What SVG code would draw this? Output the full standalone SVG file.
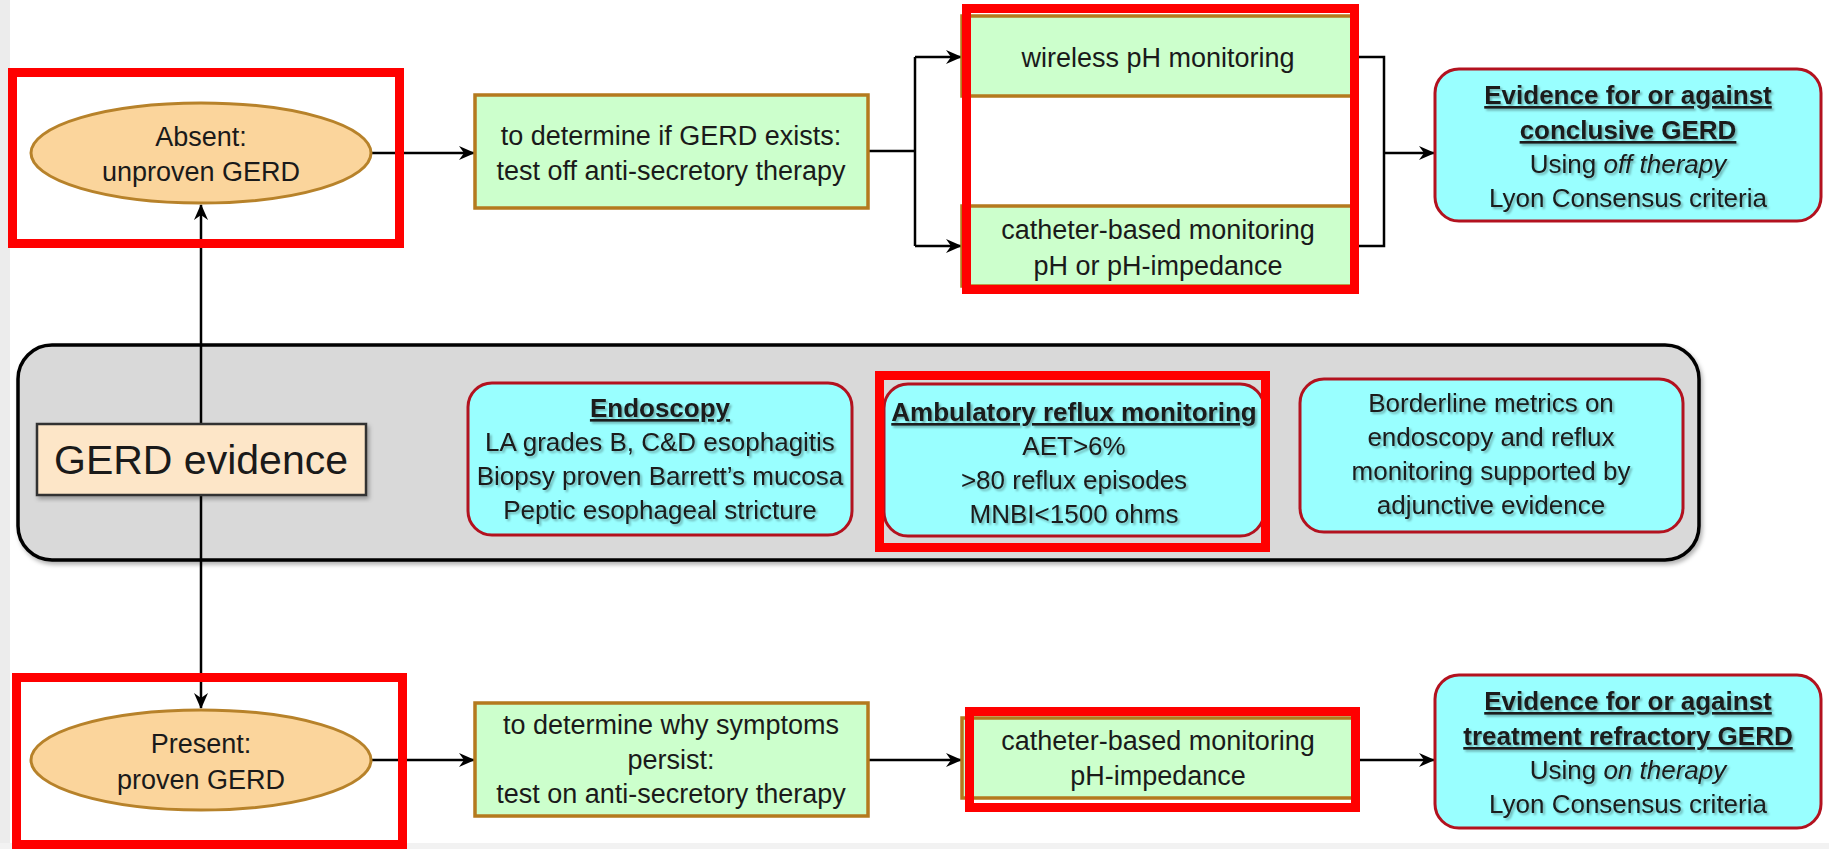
<svg xmlns="http://www.w3.org/2000/svg" width="1829" height="849" viewBox="0 0 1829 849">
<style>
text{font-family:"Liberation Sans",Arial,sans-serif;fill:#1a1a1a;text-anchor:middle}
.t27{font-size:27px}
.t26{font-size:26px}
.b{font-weight:bold;text-decoration:underline}
.ell{fill:#fbd59c;stroke:#b7822a;stroke-width:3}
.grn{fill:#ccffcc;stroke:#b47a1e;stroke-width:3.5}
.cyan{fill:#99ffff;stroke:#b3121f;stroke-width:3}
.red{fill:none;stroke:#ff0000;stroke-width:9}
.con{fill:none;stroke:#000;stroke-width:2.5}
.sh{filter:url(#ts)}
</style>
<defs>
<marker id="ah" markerUnits="userSpaceOnUse" markerWidth="16" markerHeight="14" viewBox="0 0 16 14" refX="15" refY="7" orient="auto-start-reverse">
<path d="M0,0 L16,7 L0,14 L5,7 z" fill="#000"/>
</marker>
<filter id="ts" x="-10%" y="-30%" width="120%" height="160%">
<feDropShadow dx="2" dy="2" stdDeviation="1.2" flood-color="#000" flood-opacity="0.3"/>
</filter>
<filter id="bs" x="-5%" y="-5%" width="110%" height="115%">
<feDropShadow dx="2" dy="3" stdDeviation="2" flood-color="#000" flood-opacity="0.3"/>
</filter>
</defs>
<rect x="0" y="0" width="1829" height="849" fill="#ffffff"/>
<rect x="0" y="0" width="10" height="849" fill="#ececec"/>
<rect x="0" y="843" width="1829" height="6" fill="#f2f2f2"/>

<g id="panel">
<rect x="18" y="345" width="1681" height="215" rx="34" fill="#d9d9d9" stroke="#000" stroke-width="3.5" filter="url(#bs)"/>
</g>

<g id="connectors">
<line class="con" x1="201" y1="205" x2="201" y2="708" marker-start="url(#ah)" marker-end="url(#ah)"/>
<line class="con" x1="371" y1="153" x2="474" y2="153" marker-end="url(#ah)"/>
<line class="con" x1="868" y1="151" x2="915" y2="151"/>
<path class="con" d="M915,57 V246"/>
<line class="con" x1="915" y1="57" x2="961" y2="57" marker-end="url(#ah)"/>
<line class="con" x1="915" y1="246" x2="961" y2="246" marker-end="url(#ah)"/>
<path class="con" d="M1359,57 H1384 V246 H1359"/>
<line class="con" x1="1384" y1="153" x2="1434" y2="153" marker-end="url(#ah)"/>
<line class="con" x1="371" y1="760" x2="474" y2="760" marker-end="url(#ah)"/>
<line class="con" x1="868" y1="760" x2="961" y2="760" marker-end="url(#ah)"/>
<line class="con" x1="1360" y1="760" x2="1434" y2="760" marker-end="url(#ah)"/>
</g>

<g id="absent">
<ellipse class="ell" cx="201" cy="153" rx="170" ry="50"/>
<text class="t27" x="201" y="146">Absent:</text>
<text class="t27" x="201" y="181">unproven GERD</text>
</g>

<g id="present">
<ellipse class="ell" cx="201" cy="760" rx="170" ry="50"/>
<text class="t27" x="201" y="753">Present:</text>
<text class="t27" x="201" y="789">proven GERD</text>
</g>

<g id="test-off">
<rect class="grn" x="475" y="95" width="393" height="113"/>
<text class="t27" x="671" y="145">to determine if GERD exists:</text>
<text class="t27" x="671" y="180">test off anti-secretory therapy</text>
</g>

<g id="wireless">
<rect class="grn" x="962" y="16" width="391" height="80"/>
<text class="t27" x="1158" y="67">wireless pH monitoring</text>
</g>

<g id="catheter-top">
<rect class="grn" x="962" y="206" width="391" height="80"/>
<text class="t27" x="1158" y="239">catheter-based monitoring</text>
<text class="t27" x="1158" y="275">pH or pH-impedance</text>
</g>

<g id="evidence-conclusive">
<rect class="cyan" x="1435" y="69" width="386" height="152" rx="24"/>
<g class="sh">
<text class="t26 b" x="1628" y="104">Evidence for or against</text>
<text class="t26 b" x="1628" y="139">conclusive GERD</text>
<text class="t26" x="1628" y="173">Using <tspan font-style="italic">off therapy</tspan></text>
<text class="t26" x="1628" y="207">Lyon Consensus criteria</text>
</g>
</g>

<g id="gerd-evidence">
<rect x="37" y="424" width="329" height="71" fill="#fde6c8" stroke="#333" stroke-width="2.5" filter="url(#bs)"/>
<text x="201" y="474" font-size="41">GERD evidence</text>
</g>

<g id="endoscopy">
<rect class="cyan" x="468" y="383" width="384" height="152" rx="24"/>
<g class="sh">
<text class="t26 b" x="660" y="417">Endoscopy</text>
<text class="t26" x="660" y="451">LA grades B, C&amp;D esophagitis</text>
<text class="t26" x="660" y="485">Biopsy proven Barrett’s mucosa</text>
<text class="t26" x="660" y="519">Peptic esophageal stricture</text>
</g>
</g>

<g id="ambulatory">
<rect class="cyan" x="884" y="384" width="380" height="152" rx="24"/>
<g class="sh">
<text class="t26 b" x="1074" y="421">Ambulatory reflux monitoring</text>
<text class="t26" x="1074" y="455">AET&gt;6%</text>
<text class="t26" x="1074" y="489">&gt;80 reflux episodes</text>
<text class="t26" x="1074" y="523">MNBI&lt;1500 ohms</text>
</g>
</g>

<g id="borderline">
<rect class="cyan" x="1300" y="379" width="383" height="153" rx="24"/>
<g class="sh">
<text class="t26" x="1491" y="412">Borderline metrics on</text>
<text class="t26" x="1491" y="446">endoscopy and reflux</text>
<text class="t26" x="1491" y="480">monitoring supported by</text>
<text class="t26" x="1491" y="514">adjunctive evidence</text>
</g>
</g>

<g id="test-on">
<rect class="grn" x="475" y="703" width="393" height="113"/>
<text class="t27" x="671" y="734">to determine why symptoms</text>
<text class="t27" x="671" y="769">persist:</text>
<text class="t27" x="671" y="803">test on anti-secretory therapy</text>
</g>

<g id="catheter-bottom">
<rect class="grn" x="962" y="718" width="391" height="80"/>
<text class="t27" x="1158" y="750">catheter-based monitoring</text>
<text class="t27" x="1158" y="785">pH-impedance</text>
</g>

<g id="evidence-refractory">
<rect class="cyan" x="1435" y="675" width="386" height="153" rx="24"/>
<g class="sh">
<text class="t26 b" x="1628" y="710">Evidence for or against</text>
<text class="t26 b" x="1628" y="745">treatment refractory GERD</text>
<text class="t26" x="1628" y="779">Using <tspan font-style="italic">on therapy</tspan></text>
<text class="t26" x="1628" y="813">Lyon Consensus criteria</text>
</g>
</g>

<g id="highlights">
<rect class="red" x="12.5" y="72.5" width="387" height="171"/>
<rect class="red" x="966.5" y="8.5" width="388" height="281"/>
<rect class="red" x="879.5" y="375.5" width="386" height="172"/>
<rect class="red" x="16.5" y="677.5" width="386" height="167"/>
<rect class="red" x="969.5" y="711.5" width="386" height="96"/>
</g>
</svg>
